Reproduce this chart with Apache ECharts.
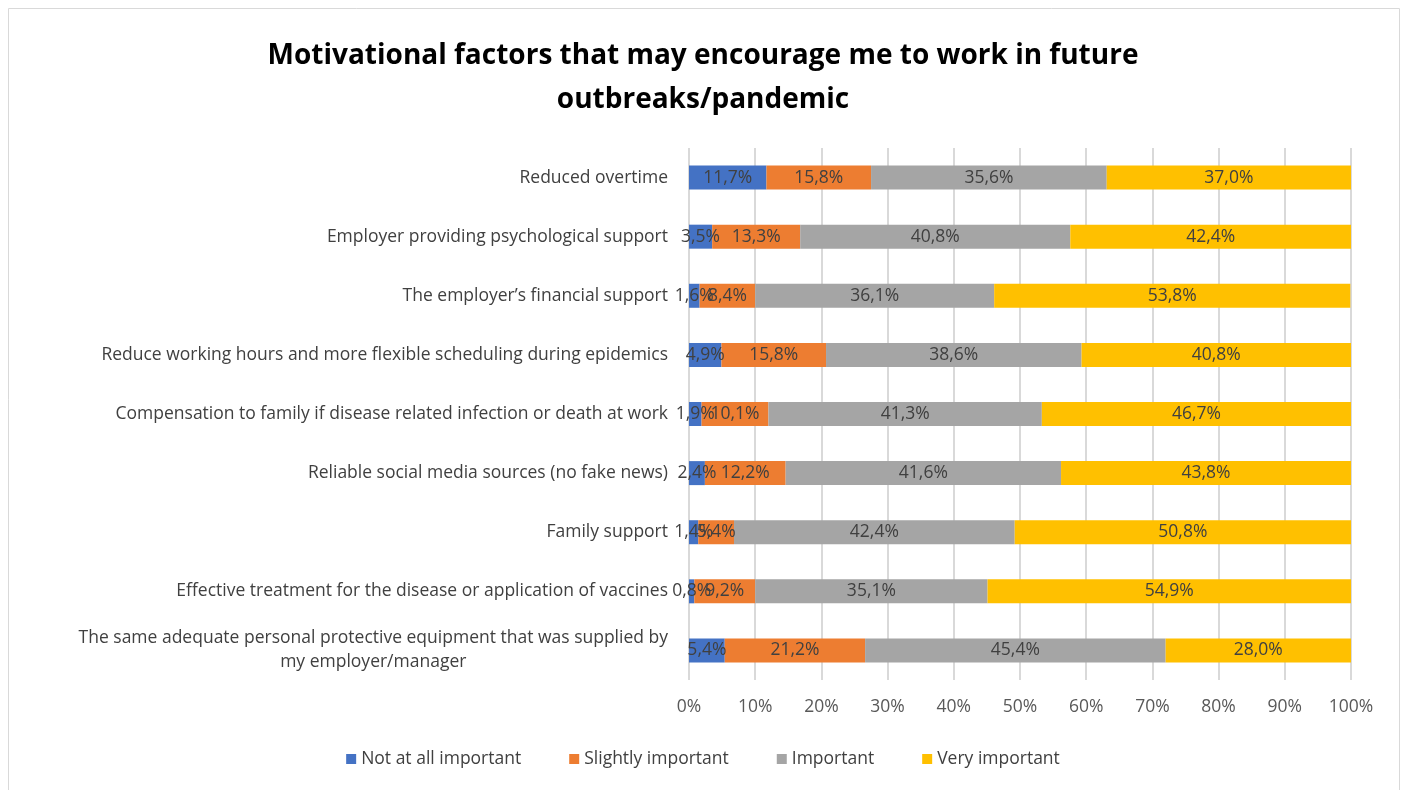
<!DOCTYPE html>
<html>
<head>
<meta charset="utf-8">
<script src="https://cdn.jsdelivr.net/npm/echarts@6/dist/echarts.min.js"></script>
<style>
  html, body { margin: 0; padding: 0; background: #fff; }
  #chart { width: 1406px; height: 790px; }
</style>
</head>
<body>
<div id="chart"></div>
<script>
// Survey factors, listed top to bottom
const categories = [
  'Reduced overtime',
  'Employer providing psychological support',
  'The employer\u2019s financial support',
  'Reduce working hours and more flexible scheduling during epidemics',
  'Compensation to family if disease related infection or death at work',
  'Reliable social media sources (no fake news)',
  'Family support',
  'Effective treatment for the disease or application of vaccines',
  'The same adequate personal protective equipment that was supplied by\nmy employer/manager'
];

const seriesNames = ['Not at all important', 'Slightly important', 'Important', 'Very important'];

// Shares of respondents (%)
const notAtAll = [11.7, 3.5, 1.6, 4.9, 1.9, 2.4, 1.4, 0.8, 5.4];
const slightly = [15.8, 13.3, 8.4, 15.8, 10.1, 12.2, 5.4, 9.2, 21.2];
const important = [35.6, 40.8, 36.1, 38.6, 41.3, 41.6, 42.4, 35.1, 45.4];
const veryImportant = [37.0, 42.4, 53.8, 40.8, 46.7, 43.8, 50.8, 54.9, 28.0];

const xTicks = [0, 10, 20, 30, 40, 50, 60, 70, 80, 90, 100];

const colors = ['#4472C4', '#ED7D31', '#A5A5A5', '#FFC000'];
const FONT = 'Open Sans';
const TEXT_SIZE = 17.5;

const chart = echarts.init(document.getElementById('chart'));

function makeSeries(name, values, color) {
  return {
    name: name,
    type: 'bar',
    stack: 'total',
    barWidth: 24,
    data: values,
    itemStyle: { color: color },
    label: {
      show: true,
      position: 'inside',
      color: '#404040',
      fontFamily: FONT,
      fontSize: TEXT_SIZE,
      formatter: p => p.value.toFixed(1).replace('.', ',') + '%'
    },
    emphasis: { disabled: true }
  };
}

chart.setOption({
  animation: false,
  textStyle: { fontFamily: FONT },
  graphic: [{
    type: 'rect',
    shape: { x: 8.5, y: 8.5, width: 1391, height: 800 },
    style: { fill: 'none', stroke: '#D9D9D9', lineWidth: 1 },
    silent: true,
    z: -10
  }],
  title: {
    text: 'Motivational factors that may encourage me to work in future\noutbreaks/pandemic',
    left: 'center',
    top: 29,
    textStyle: {
      fontFamily: FONT,
      fontWeight: 'bold',
      fontSize: 28,
      lineHeight: 44,
      color: '#000'
    }
  },
  legend: {
    bottom: 17,
    left: 'center',
    icon: 'rect',
    itemWidth: 10,
    itemHeight: 10,
    itemGap: 48,
    data: seriesNames,
    textStyle: { fontFamily: FONT, fontSize: TEXT_SIZE, color: '#404040' }
  },
  grid: {
    left: 689,
    right: 55,
    top: 148,
    bottom: 110,
    containLabel: false
  },
  xAxis: {
    type: 'value',
    min: xTicks[0],
    max: xTicks[xTicks.length - 1],
    interval: 10,
    axisLine: { show: false },
    axisTick: { show: false },
    splitLine: { lineStyle: { color: '#D9D9D9', width: 2 } },
    axisLabel: {
      formatter: v => v + '%',
      color: '#595959',
      fontFamily: FONT,
      fontSize: TEXT_SIZE,
      margin: 18
    }
  },
  yAxis: {
    type: 'category',
    inverse: true,
    data: categories,
    axisLine: { show: false },
    axisTick: { show: false },
    axisLabel: {
      color: '#404040',
      fontFamily: FONT,
      fontSize: TEXT_SIZE,
      margin: 21,
      formatter: v => v.split('\n').map(line => '{c|' + line + '}').join('\n'),
      rich: {
        c: { align: 'center', fontFamily: FONT, fontSize: TEXT_SIZE, color: '#404040', lineHeight: 24 }
      }
    }
  },
  series: [
    makeSeries(seriesNames[0], notAtAll, colors[0]),
    makeSeries(seriesNames[1], slightly, colors[1]),
    makeSeries(seriesNames[2], important, colors[2]),
    makeSeries(seriesNames[3], veryImportant, colors[3])
  ]
});
</script>
</body>
</html>
